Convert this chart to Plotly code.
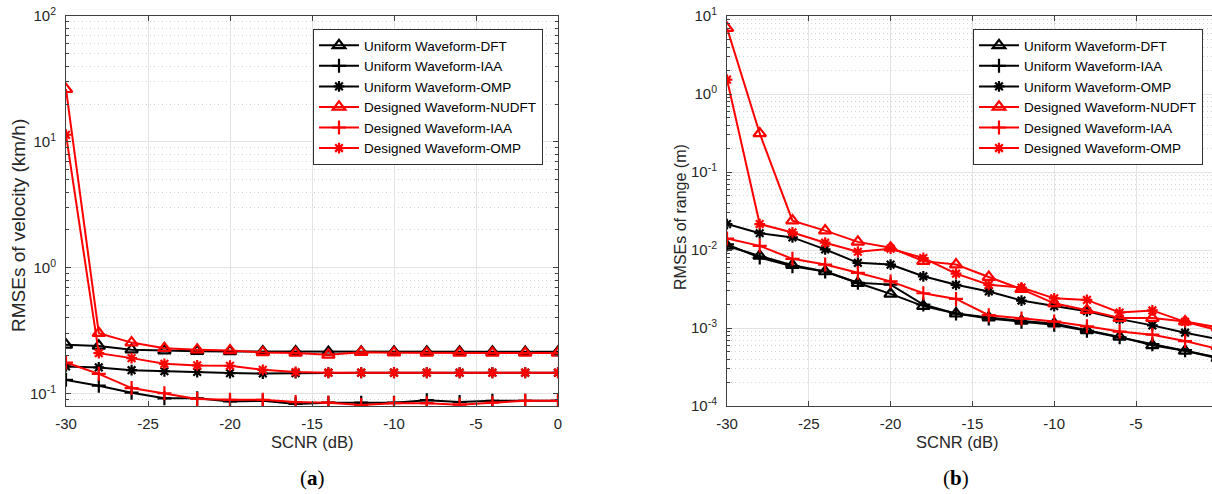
import plotly.graph_objects as go

W, H = 1212, 494

# ---------------- data ----------------
scnr = [-30, -28, -26, -24, -22, -20, -18, -16, -14, -12, -10, -8, -6, -4, -2, 0]

# (a) RMSE of velocity (km/h)
vel_uni_dft = [0.245, 0.24, 0.224, 0.22, 0.218, 0.217, 0.217, 0.217, 0.215, 0.216, 0.216, 0.216, 0.216, 0.216, 0.215, 0.216]
vel_uni_iaa = [0.129, 0.116, 0.102, 0.092, 0.092, 0.087, 0.088, 0.083, 0.085, 0.085, 0.085, 0.089, 0.086, 0.088, 0.088, 0.088]
vel_uni_omp = [0.165, 0.162, 0.154, 0.151, 0.149, 0.146, 0.145, 0.146, 0.147, 0.147, 0.147, 0.147, 0.147, 0.147, 0.147, 0.147]
vel_des_nudft = [26.2, 0.303, 0.255, 0.230, 0.224, 0.221, 0.213, 0.211, 0.204, 0.214, 0.212, 0.211, 0.211, 0.211, 0.211, 0.211]
vel_des_iaa = [0.177, 0.144, 0.111, 0.101, 0.091, 0.0896, 0.0896, 0.086, 0.085, 0.0815, 0.0842, 0.0842, 0.082, 0.085, 0.088, 0.088]
vel_des_omp = [11.4, 0.210, 0.192, 0.173, 0.168, 0.167, 0.155, 0.149, 0.147, 0.147, 0.147, 0.147, 0.147, 0.147, 0.147, 0.147]

# (b) RMSE of range (m)
rng_uni_dft = [0.0113, 0.0084, 0.0064, 0.0053, 0.00377, 0.00274, 0.00191, 0.00153, 0.00136, 0.00123, 0.00114, 0.00093, 0.00077, 0.00060, 0.00051, 0.00041]
rng_uni_iaa = [0.0118, 0.0080, 0.0062, 0.0053, 0.0038, 0.0036, 0.0020, 0.00153, 0.00132, 0.00120, 0.00110, 0.00092, 0.00076, 0.00062, 0.00052, 0.00042]
rng_uni_omp = [0.0215, 0.0164, 0.0145, 0.0102, 0.00685, 0.0065, 0.0046, 0.00358, 0.00294, 0.00225, 0.00191, 0.00164, 0.0013, 0.00108, 0.00087, 0.00072]
rng_des_nudft = [7.0, 0.312, 0.0238, 0.0177, 0.0127, 0.0107, 0.0072, 0.0065, 0.0045, 0.00315, 0.00207, 0.00169, 0.00134, 0.00134, 0.00121, 0.00102]
rng_des_iaa = [0.0140, 0.0113, 0.0077, 0.0065, 0.0051, 0.00396, 0.00279, 0.00236, 0.00146, 0.00132, 0.00121, 0.00105, 0.0009, 0.00082, 0.00068, 0.00054]
rng_des_omp = [1.53, 0.0215, 0.0168, 0.0124, 0.0095, 0.0104, 0.0079, 0.00497, 0.00358, 0.0033, 0.0024, 0.00229, 0.00158, 0.00168, 0.0012, 0.00094]

names = ["Uniform Waveform-DFT", "Uniform Waveform-IAA", "Uniform Waveform-OMP",
         "Designed Waveform-NUDFT", "Designed Waveform-IAA", "Designed Waveform-OMP"]

x_ticks_a = [-30, -25, -20, -15, -10, -5, 0]
x_text_a = ["-30", "-25", "-20", "-15", "-10", "-5", "0"]
x_ticks_b = [-30, -25, -20, -15, -10, -5]
x_text_b = ["-30", "-25", "-20", "-15", "-10", "-5"]
y_ticks_a = [0.1, 1, 10, 100]
y_text_a = ["10<sup>-1</sup>", "10<sup>0</sup>", "10<sup>1</sup>", "10<sup>2</sup>"]
y_ticks_b = [1e-4, 1e-3, 1e-2, 1e-1, 1, 10]
y_text_b = ["10<sup>-4</sup>", "10<sup>-3</sup>", "10<sup>-2</sup>", "10<sup>-1</sup>", "10<sup>0</sup>", "10<sup>1</sup>"]

def minor_vals(lo_exp, hi_exp):
    return [m * 10 ** e for e in range(lo_exp, hi_exp) for m in range(2, 10)]

# ---------------- styles ----------------
BLACK = "#000000"
RED = "#ff0000"
styles = [
    (BLACK, "triangle-up-open", 11),
    (BLACK, "cross-thin-open", 10),
    (BLACK, "asterisk-open", 9),
    (RED, "triangle-up-open", 11),
    (RED, "cross-thin-open", 10),
    (RED, "asterisk-open", 9),
]

fig = go.Figure()

series_a = [vel_uni_dft, vel_uni_iaa, vel_uni_omp, vel_des_nudft, vel_des_iaa, vel_des_omp]
series_b = [rng_uni_dft, rng_uni_iaa, rng_uni_omp, rng_des_nudft, rng_des_iaa, rng_des_omp]

for name, ys, (c, sym, sz) in zip(names, series_a, styles):
    fig.add_trace(go.Scatter(
        x=scnr, y=ys, name=name, mode="lines+markers",
        line=dict(color=c, width=2),
        marker=dict(symbol=sym, size=sz, color=c, line=dict(color=c, width=2.2)),
        xaxis="x", yaxis="y", legend="legend"))

for name, ys, (c, sym, sz) in zip(names, series_b, styles):
    fig.add_trace(go.Scatter(
        x=scnr, y=ys, name=name, mode="lines+markers",
        line=dict(color=c, width=2),
        marker=dict(symbol=sym, size=sz, color=c, line=dict(color=c, width=2.2)),
        xaxis="x2", yaxis="y2", legend="legend2"))

# ---------------- layout ----------------
FONT = "Liberation Sans, Arial, sans-serif"
AX = "#404040"
TXT = "#262626"
GRID = "#e3e3e3"
MINOR = "#d4d4d4"

def px_x(p):
    return p / W

def px_y(p):
    return 1 - p / H

ydom = [px_y(406), px_y(16)]

common = dict(
    showline=True, linecolor=AX, linewidth=1,
    ticks="inside", ticklen=5, tickcolor=AX,
    showgrid=True, gridcolor=GRID, gridwidth=1,
    zeroline=False, automargin=False,
    tickfont=dict(family=FONT, size=15, color=TXT),
)
minor_a = dict(tickvals=minor_vals(-2, 2), ticks="inside", ticklen=3, tickcolor=AX,
               showgrid=True, gridcolor=MINOR, griddash="1px,3px")
minor_b = dict(tickvals=minor_vals(-4, 1), ticks="inside", ticklen=3, tickcolor=AX,
               showgrid=True, gridcolor=MINOR, griddash="1px,3px")

legend_common = dict(xanchor="left", yanchor="top", bgcolor="white",
                     bordercolor="#303030", borderwidth=1,
                     font=dict(family=FONT, size=13.5, color=BLACK),
                     tracegroupgap=0, itemwidth=40)

fig.update_layout(
    width=W, height=H,
    margin=dict(l=0, r=0, t=0, b=0, pad=0, autoexpand=False),
    paper_bgcolor="white", plot_bgcolor="white",
    font=dict(family=FONT, color=TXT),
    xaxis=dict(domain=[px_x(66), px_x(558)], range=[-30, 0], anchor="y",
               tickvals=x_ticks_a, ticktext=x_text_a, mirror="ticks", ticklabelstandoff=4, **common),
    yaxis=dict(domain=ydom, type="log", range=[-1.0969, 2], anchor="x",
               tickvals=y_ticks_a, ticktext=y_text_a, minor=minor_a,
               mirror="ticks", ticklabelstandoff=6, **common),
    xaxis2=dict(domain=[px_x(727), 1.0], range=[-30, -30 + (W - 727) / 16.36], anchor="y2",
                tickvals=x_ticks_b, ticktext=x_text_b, mirror="ticks", ticklabelstandoff=4, **common),
    yaxis2=dict(domain=ydom, type="log", range=[-4, 1], anchor="x2",
                tickvals=y_ticks_b, ticktext=y_text_b, minor=minor_b,
                ticklabelstandoff=6, **common),
    legend=dict(x=px_x(313), y=px_y(29), **legend_common),
    legend2=dict(x=px_x(973), y=px_y(29), **legend_common),
    showlegend=True,
)

ann = []
for xc, txt in [(312, "SCNR (dB)"), (957, "SCNR (dB)")]:
    ann.append(dict(text=txt, x=px_x(xc), y=px_y(442), xref="paper", yref="paper",
                    showarrow=False, font=dict(family=FONT, size=16.5, color=TXT),
                    xanchor="center", yanchor="middle"))
ann.append(dict(text="RMSEs of velocity (km/h)", x=px_x(18), y=px_y(226), xref="paper", yref="paper",
                showarrow=False, textangle=-90, font=dict(family=FONT, size=19, color=TXT),
                xanchor="center", yanchor="middle"))
ann.append(dict(text="RMSEs of range (m)", x=px_x(680), y=px_y(217), xref="paper", yref="paper",
                showarrow=False, textangle=-90, font=dict(family=FONT, size=16, color=TXT),
                xanchor="center", yanchor="middle"))
for xc, lab in [(312, "a"), (956, "b")]:
    ann.append(dict(text="(<b>%s</b>)" % lab, x=px_x(xc), y=px_y(478), xref="paper", yref="paper",
                    showarrow=False,
                    font=dict(family="Liberation Serif, DejaVu Serif, serif", size=21, color=BLACK),
                    xanchor="center", yanchor="middle"))
fig.update_layout(annotations=ann)

fig.write_html("out.html")
